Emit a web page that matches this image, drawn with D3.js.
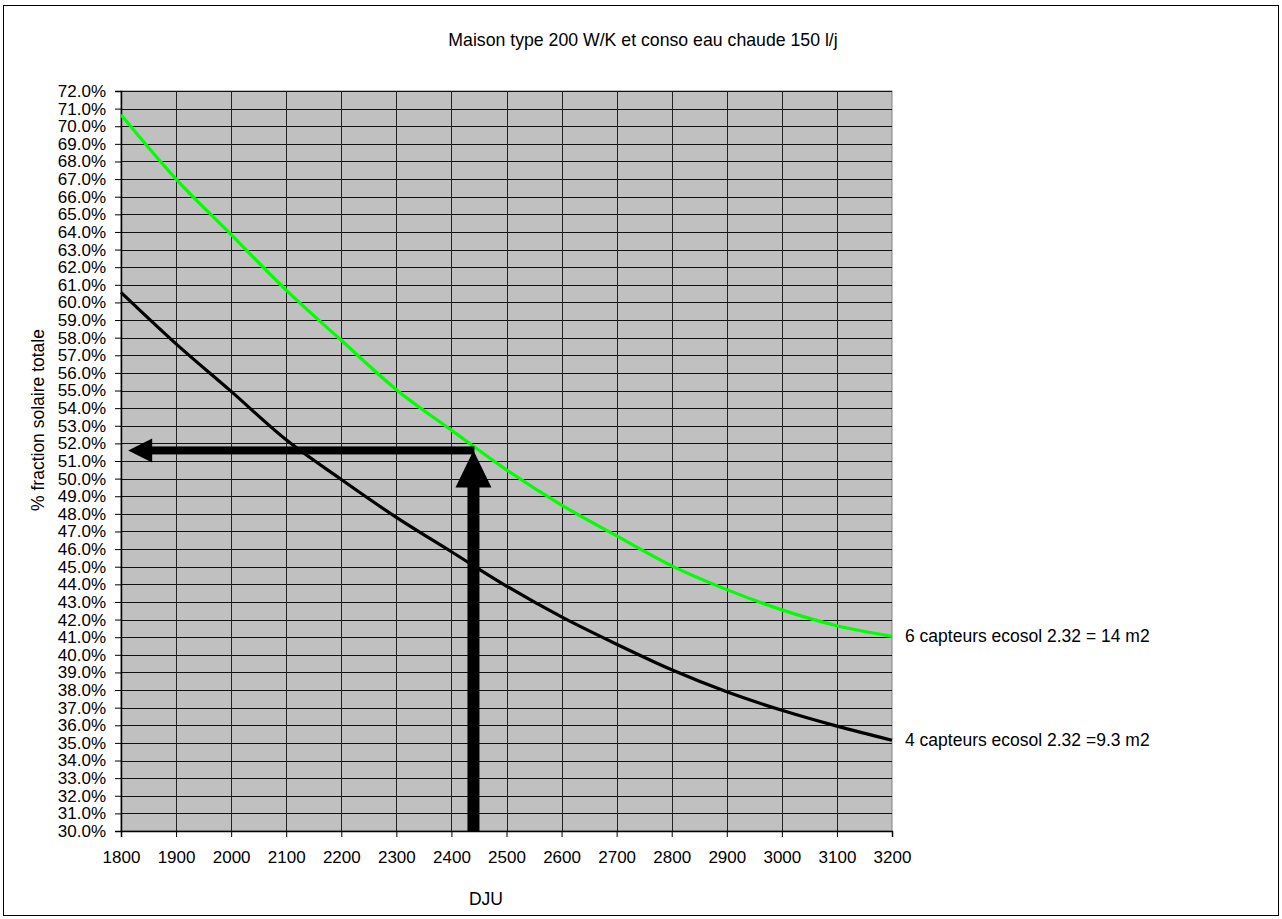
<!DOCTYPE html>
<html>

<head>
    <meta charset="UTF-8">
    <title>Maison type 200 W/K</title>
    <style>
        body { margin: 0; background: #fff; }
        svg text { font-family: "Liberation Sans", Arial, sans-serif; fill: #000; }
    </style>
</head>

<body>
<div id="chart"></div>
</body>
<script src="https://cdn.jsdelivr.net/npm/d3@7/dist/d3.min.js"></script>
<script>
    // données
    var dju = [1800, 1900, 2000, 2100, 2200, 2300, 2400, 2500, 2600, 2700, 2800, 2900, 3000, 3100, 3200];
    var capteurs6 = [70.65, 67.0, 63.85, 60.7, 57.85, 55.05, 52.75, 50.5, 48.5, 46.75, 45.05, 43.7, 42.55, 41.65, 41.05];
    var capteurs4 = [60.57, 57.65, 54.95, 52.2, 49.95, 47.8, 45.85, 43.9, 42.15, 40.6, 39.15, 37.9, 36.85, 35.95, 35.15];
    var xTicks = [1800, 1900, 2000, 2100, 2200, 2300, 2400, 2500, 2600, 2700, 2800, 2900, 3000, 3100, 3200];
    var yTicks = d3.range(30, 73, 1);
    var seriesNames = ["6 capteurs ecosol 2.32 = 14 m2", "4 capteurs ecosol 2.32 =9.3 m2"];
    var seriesColors = ["#00ff00", "#000000"];
    // flèches de lecture
    var arrowDju = 2440, arrowPct = 51.6, arrowEndDju = 1813;

    var width = 1282, height = 919;
    var margin = {left: 121, right: 390, top: 91, bottom: 88};

    var svg = d3.select("#chart").append("svg")
        .attr("width", width)
        .attr("height", height);

    // cadre extérieur
    svg.append("rect")
        .attr("x", 3.5).attr("y", 5.5)
        .attr("width", 1275).attr("height", 910)
        .attr("fill", "none").attr("stroke", "#000");

    var x = d3.scaleLinear().domain([1800, 3200]).range([margin.left, width - margin.right]);
    var y = d3.scaleLinear().domain([30, 72]).range([height - margin.bottom, margin.top]);

    // fond gris
    svg.append("rect")
        .attr("x", x(1800)).attr("y", y(72))
        .attr("width", x(3200) - x(1800)).attr("height", y(30) - y(72))
        .attr("fill", "#c0c0c0").attr("stroke", "#808080");

    // quadrillage
    svg.append("g").selectAll("line")
        .data(yTicks.slice(1))
        .join("line")
        .attr("x1", x(1800)).attr("x2", x(3200))
        .attr("y1", function (d) { return Math.round(y(d)) + 0.5; })
        .attr("y2", function (d) { return Math.round(y(d)) + 0.5; })
        .attr("stroke", "#111");
    svg.append("g").selectAll("line")
        .data(xTicks.slice(1, -1))
        .join("line")
        .attr("y1", y(72)).attr("y2", y(30))
        .attr("x1", function (d) { return Math.round(x(d)) + 0.5; })
        .attr("x2", function (d) { return Math.round(x(d)) + 0.5; })
        .attr("stroke", "#222");

    // axes
    var yAxis = svg.append("g")
        .attr("transform", "translate(" + x(1800) + ",0)")
        .call(d3.axisLeft(y).tickValues(yTicks).tickSize(6).tickPadding(9)
            .tickFormat(function (d) { return d.toFixed(1) + "%"; }));
    var xAxis = svg.append("g")
        .attr("transform", "translate(0," + y(30) + ")")
        .call(d3.axisBottom(x).tickValues(xTicks).tickSize(6).tickPadding(14)
            .tickFormat(d3.format("d")));
    [yAxis, xAxis].forEach(function (a) {
        a.select(".domain").attr("stroke", "#000").attr("stroke-width", 1.5);
        a.selectAll(".tick line").attr("stroke", "#000");
        a.selectAll("text").attr("font-size", 17).attr("font-family", "Liberation Sans, Arial, sans-serif");
    });

    // courbes
    var line = d3.line()
        .x(function (d) { return x(d[0]); })
        .y(function (d) { return y(d[1]); })
        .curve(d3.curveMonotoneX);
    [capteurs6, capteurs4].forEach(function (vals, i) {
        var pts = dju.map(function (v, j) { return [v, vals[j]]; });
        svg.append("path")
            .datum(pts)
            .attr("d", line)
            .attr("fill", "none")
            .attr("stroke", seriesColors[i])
            .attr("stroke-width", 3.2);
        svg.append("text")
            .attr("x", x(3200) + 13)
            .attr("y", y(vals[vals.length - 1]))
            .attr("dy", "0.35em")
            .attr("font-size", 17.5)
            .text(seriesNames[i]);
    });

    // flèche horizontale
    svg.append("rect")
        .attr("x", x(arrowEndDju) + 23).attr("y", y(arrowPct) - 4)
        .attr("width", x(arrowDju) + 1 - (x(arrowEndDju) + 23)).attr("height", 8)
        .attr("fill", "#000");
    svg.append("path")
        .attr("d", "M" + x(arrowEndDju) + "," + y(arrowPct) +
            "L" + (x(arrowEndDju) + 24) + "," + (y(arrowPct) - 12) +
            "L" + (x(arrowEndDju) + 24) + "," + (y(arrowPct) + 12) + "Z")
        .attr("fill", "#000");

    // flèche verticale
    svg.append("rect")
        .attr("x", x(arrowDju) - 6).attr("y", y(arrowPct) + 36)
        .attr("width", 12).attr("height", y(30) - y(arrowPct) - 36)
        .attr("fill", "#000");
    svg.append("path")
        .attr("d", "M" + x(arrowDju) + "," + y(arrowPct) +
            "L" + (x(arrowDju) + 18) + "," + (y(arrowPct) + 37) +
            "L" + (x(arrowDju) - 18) + "," + (y(arrowPct) + 37) + "Z")
        .attr("fill", "#000");

    // titres
    svg.append("text")
        .attr("x", 643).attr("y", 46)
        .attr("text-anchor", "middle")
        .attr("font-size", 17.7)
        .text("Maison type 200 W/K et conso eau chaude 150 l/j");
    svg.append("text")
        .attr("x", 486).attr("y", 905)
        .attr("text-anchor", "middle")
        .attr("font-size", 17.5)
        .text("DJU");
    svg.append("text")
        .attr("transform", "translate(44,420) rotate(-90)")
        .attr("text-anchor", "middle")
        .attr("font-size", 17.5)
        .text("% fraction solaire totale");
</script>
</html>
